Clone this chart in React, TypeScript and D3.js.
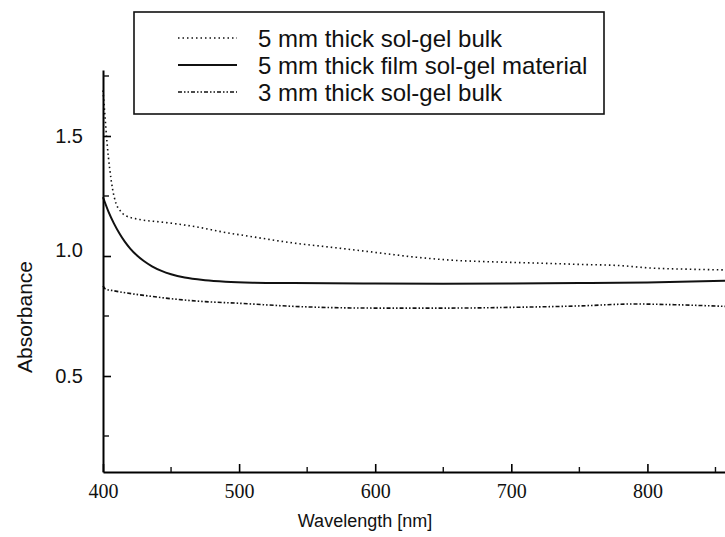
import React, { useEffect, useRef } from 'react';
import * as d3 from 'd3';

// [wavelength nm, absorbance]
const bulk5mm: [number, number][] = [
  [400, 1.69], [401.5, 1.58], [403, 1.47], [405, 1.36], [407, 1.28], [409.5, 1.22],
  [412.5, 1.19], [416, 1.17], [427, 1.152], [442, 1.142], [455, 1.133], [470, 1.12],
  [488, 1.10], [510, 1.08], [540, 1.054], [570, 1.035], [600, 1.015], [630, 0.995],
  [655, 0.983], [690, 0.975], [716, 0.971], [750, 0.965], [780, 0.96], [802, 0.95],
  [830, 0.945], [857, 0.942],
];
const film5mm: [number, number][] = [
  [400, 1.245], [404, 1.185], [408, 1.136], [412, 1.095], [416, 1.06], [420, 1.031],
  [425, 1.002], [430, 0.979], [436, 0.957], [443, 0.938], [450, 0.924], [460, 0.91],
  [475, 0.899], [490, 0.893], [510, 0.889], [540, 0.887], [600, 0.885], [650, 0.884],
  [700, 0.885], [750, 0.887], [800, 0.89], [857, 0.897],
];
const bulk3mm: [number, number][] = [
  [400, 0.875], [402, 0.862], [408, 0.855], [415, 0.848], [430, 0.836], [450, 0.822],
  [475, 0.81], [500, 0.803], [545, 0.789], [600, 0.783], [655, 0.783], [700, 0.786],
  [750, 0.792], [790, 0.8], [820, 0.797], [857, 0.79],
];

const legendLabels = [
  '5 mm thick sol-gel bulk',
  '5 mm thick film sol-gel material',
  '3 mm thick sol-gel bulk',
];
const dashes = ['1.5,3', null, '4,2,1.5,2,1.5,2'];
const xTicks = [400, 500, 600, 700, 800];
const xMinor = [450, 550, 650, 750, 850];
const yTicks = [0.5, 1.0, 1.5];
const yMinor = [0.25, 0.75, 1.25, 1.75];

const App = () => {
  const ref = useRef<SVGSVGElement>(null);

  useEffect(() => {
    const svg = d3.select(ref.current);
    const width = 725;
    svg.selectAll('*').remove();

    const sans = 'Arial, "Liberation Sans", sans-serif';
    const serif = '"Times New Roman", "Liberation Serif", serif';

    const x = d3.scaleLinear().domain([400, 857]).range([103, width]);
    const y = d3.scaleLinear().domain([0.1, 1.775]).range([472, 70]);

    const line = d3.line<[number, number]>()
      .x(d => x(d[0]))
      .y(d => y(d[1]))
      .curve(d3.curveMonotoneX);

    const series = [bulk5mm, film5mm, bulk3mm];
    const widths = [1.6, 2, 1.6];

    series.forEach((s, i) => {
      svg.append('path')
        .datum(s)
        .attr('fill', 'none')
        .attr('stroke', '#111')
        .attr('stroke-width', widths[i])
        .attr('stroke-dasharray', dashes[i])
        .attr('d', line);
    });

    // x axis
    const gx = svg.append('g').attr('transform', `translate(0,${y(0.1)})`);
    gx.call(d3.axisBottom(x).tickValues(xTicks).tickSize(-8).tickFormat(d3.format('d')).tickSizeOuter(0));
    gx.select('.domain').attr('stroke-width', 2);
    gx.selectAll('.tick line').attr('stroke-width', 1.6);
    gx.selectAll('.tick text')
      .attr('font-family', serif).attr('font-size', 20).attr('fill', '#111')
      .attr('y', 12);
    gx.append('g').selectAll('line').data(xMinor).join('line')
      .attr('x1', d => x(d)).attr('x2', d => x(d))
      .attr('y1', 0).attr('y2', -5)
      .attr('stroke', '#111').attr('stroke-width', 1.4);

    // y axis
    const gy = svg.append('g').attr('transform', `translate(${x(400)},0)`);
    gy.call(d3.axisLeft(y).tickValues(yTicks).tickSize(-8).tickFormat(d3.format('.1f')).tickSizeOuter(0));
    gy.select('.domain').attr('stroke-width', 2);
    gy.selectAll('.tick line').attr('stroke-width', 1.6);
    gy.selectAll('.tick text')
      .attr('font-family', sans).attr('font-size', 20).attr('fill', '#111')
      .attr('x', -20);
    // the 1.0 label sits a little high in the original
    gy.selectAll<SVGTextElement, number>('.tick text')
      .filter(d => d === 1.0)
      .attr('y', -6);
    gy.append('g').selectAll('line').data(yMinor).join('line')
      .attr('x1', 0).attr('x2', 6)
      .attr('y1', d => y(d)).attr('y2', d => y(d))
      .attr('stroke', '#111').attr('stroke-width', 1.4);

    svg.append('text')
      .attr('x', 365).attr('y', 527)
      .attr('text-anchor', 'middle')
      .attr('font-family', sans).attr('font-size', 18).attr('fill', '#111')
      .text('Wavelength [nm]');

    svg.append('text')
      .attr('transform', 'translate(32,317) rotate(-90)')
      .attr('text-anchor', 'middle')
      .attr('font-family', sans).attr('font-size', 21).attr('fill', '#111')
      .text('Absorbance');

    // legend
    const lg = svg.append('g');
    lg.append('rect')
      .attr('x', 134).attr('y', 12).attr('width', 470).attr('height', 102)
      .attr('fill', 'white').attr('stroke', '#111').attr('stroke-width', 1.6);
    legendLabels.forEach((label, i) => {
      const yy = 38 + i * 27;
      lg.append('line')
        .attr('x1', 178).attr('x2', 237).attr('y1', yy).attr('y2', yy)
        .attr('stroke', '#111').attr('stroke-width', widths[i])
        .attr('stroke-dasharray', dashes[i]);
      lg.append('text')
        .attr('x', 258).attr('y', yy + 8.5)
        .attr('font-family', sans).attr('font-size', 24).attr('fill', '#111')
        .text(label);
    });
  }, []);

  return (
    <svg ref={ref} width={725} height={537}
      style={{ position: 'absolute', left: 0, top: 0, background: 'white' }} />
  );
};

export default App;
